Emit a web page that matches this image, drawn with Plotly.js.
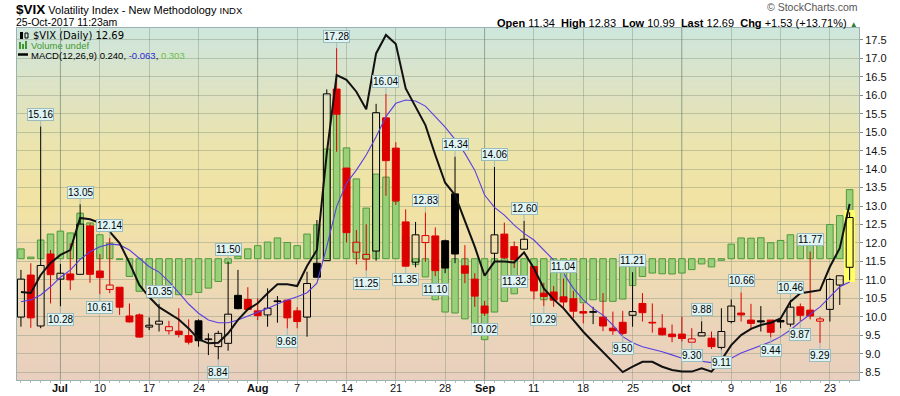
<!DOCTYPE html>
<html><head><meta charset="utf-8">
<script src="https://cdn.plot.ly/plotly-3.0.1.min.js"></script>
<style>html,body{margin:0;padding:0;background:#fff}#chart{width:900px;height:396px}</style>
</head><body><div id="chart"></div>
<script>
// ---------- DATA ----------
const dates = ['2017-06-27','2017-06-28','2017-06-29','2017-06-30','2017-07-03','2017-07-05','2017-07-06','2017-07-07','2017-07-10','2017-07-11','2017-07-12','2017-07-13','2017-07-14','2017-07-17','2017-07-18','2017-07-19','2017-07-20','2017-07-21','2017-07-24','2017-07-25','2017-07-26','2017-07-27','2017-07-28','2017-07-31','2017-08-01','2017-08-02','2017-08-03','2017-08-04','2017-08-07','2017-08-08','2017-08-09','2017-08-10','2017-08-11','2017-08-14','2017-08-15','2017-08-16','2017-08-17','2017-08-18','2017-08-21','2017-08-22','2017-08-23','2017-08-24','2017-08-25','2017-08-28','2017-08-29','2017-08-30','2017-08-31','2017-09-01','2017-09-05','2017-09-06','2017-09-07','2017-09-08','2017-09-11','2017-09-12','2017-09-13','2017-09-14','2017-09-15','2017-09-18','2017-09-19','2017-09-20','2017-09-21','2017-09-22','2017-09-25','2017-09-26','2017-09-27','2017-09-28','2017-09-29','2017-10-02','2017-10-03','2017-10-04','2017-10-05','2017-10-06','2017-10-09','2017-10-10','2017-10-11','2017-10-12','2017-10-13','2017-10-16','2017-10-17','2017-10-18','2017-10-19','2017-10-20','2017-10-23','2017-10-24','2017-10-25'];

const openP = [9.99,11.13,9.75,11.70,11.02,11.16,11.15,12.46,11.24,10.74,
10.80,10.02,10.05,9.72,9.80,9.62,9.61,9.49,9.89,9.38,
9.19,9.28,10.58,10.47,10.16,10.05,10.43,10.45,10.16,9.99,
11.45,11.52,16.17,14.03,11.75,11.56,11.78,15.39,14.57,12.57,
11.48,12.01,12.19,12.06,13.33,11.38,11.02,10.29,11.72,12.24,
11.90,11.83,11.36,10.64,10.67,10.54,10.49,10.14,10.12,9.99,
9.69,9.85,10.04,10.36,9.85,9.69,9.53,9.53,9.31,9.48,
9.42,9.17,9.87,10.10,9.91,9.89,9.91,9.90,9.80,10.27,
10.18,9.88,10.20,10.86,11.34];

const highP = [11.27,11.45,15.16,11.81,11.43,11.99,13.05,12.53,11.70,12.14,
10.80,10.36,10.09,9.98,10.35,9.89,10.23,9.93,9.93,9.55,
9.62,11.50,11.27,10.80,10.50,10.77,10.56,10.45,10.26,11.22,
12.62,16.16,17.28,14.03,12.35,12.51,15.77,16.04,14.73,12.91,
12.57,12.83,12.42,12.09,14.34,11.94,11.18,10.43,14.06,12.55,
12.04,12.60,11.36,10.92,10.83,11.04,10.70,10.36,10.27,10.64,
10.14,10.16,11.21,10.64,10.36,10.07,9.79,10.00,9.69,9.88,
9.60,10.23,10.47,10.66,10.35,10.29,9.91,9.96,10.46,10.36,
11.77,10.00,11.05,11.11,12.83];

const lowP = [9.73,9.70,9.69,10.36,10.28,10.72,11.15,10.92,10.61,10.64,
10.05,9.84,9.43,9.64,9.60,9.52,9.44,9.25,9.19,8.96,
8.84,9.08,10.20,10.18,9.91,9.73,9.84,9.68,9.69,9.46,
11.07,11.52,14.47,12.01,11.42,11.25,11.52,13.28,13.03,11.35,
11.34,11.49,11.10,11.18,11.45,10.91,10.27,10.02,11.45,11.57,
11.32,11.83,10.47,10.29,10.27,10.23,9.96,9.82,9.80,9.61,
9.51,9.50,9.73,9.87,9.57,9.49,9.31,9.33,9.30,9.48,
9.13,9.11,9.82,9.87,9.64,9.60,9.44,9.69,9.73,9.87,
9.93,9.29,9.87,10.32,10.99];

const closeP = [11.02,9.97,11.39,11.14,11.18,11.00,12.51,11.15,11.06,10.86,
10.26,9.86,9.45,9.77,9.88,9.73,9.52,9.31,9.35,9.39,
9.55,10.07,10.22,10.20,10.03,10.23,10.41,9.97,9.87,10.90,
11.07,16.04,15.49,12.28,12.02,11.69,15.53,14.23,13.14,11.37,
12.22,12.20,11.25,11.32,11.70,11.18,10.56,10.10,12.22,11.60,
11.55,12.10,10.70,10.55,10.45,10.40,10.15,10.10,10.13,9.75,
9.62,9.55,10.14,10.11,9.83,9.51,9.46,9.41,9.40,9.57,
9.19,9.60,10.29,10.05,9.82,9.86,9.58,9.86,10.26,10.04,
10.02,9.94,11.01,11.11,12.69];

const macdLine = [-0.102,-0.106,-0.036,0.011,0.042,0.061,0.186,0.181,0.167,0.132,
0.088,0.011,-0.075,-0.122,-0.161,-0.185,-0.209,-0.244,-0.286,-0.302,
-0.300,-0.263,-0.211,-0.170,-0.146,-0.107,-0.072,-0.072,-0.079,-0.001,
0.061,0.437,0.742,0.723,0.677,0.609,0.826,0.898,0.863,0.690,
0.616,0.547,0.431,0.323,0.275,0.178,0.074,-0.039,0.016,0.016,
0.013,0.052,-0.010,-0.088,-0.131,-0.166,-0.211,-0.257,-0.297,-0.336,
-0.375,-0.414,-0.393,-0.374,-0.374,-0.393,-0.406,-0.412,-0.412,-0.399,
-0.412,-0.367,-0.309,-0.270,-0.246,-0.231,-0.222,-0.205,-0.140,-0.107,
-0.101,-0.095,-0.004,0.068,0.240];

const signalLine = [-0.140,-0.133,-0.114,-0.082,-0.045,-0.017,0.025,0.054,0.074,0.084,
0.081,0.061,0.029,-0.004,-0.025,-0.062,-0.105,-0.149,-0.185,-0.211,
-0.222,-0.222,-0.211,-0.196,-0.183,-0.166,-0.149,-0.133,-0.121,-0.105,
-0.068,0.074,0.230,0.321,0.372,0.431,0.502,0.580,0.632,0.645,
0.641,0.621,0.580,0.539,0.492,0.437,0.372,0.275,0.227,0.197,
0.158,0.126,0.100,0.061,0.022,-0.030,-0.088,-0.133,-0.166,-0.192,
-0.231,-0.276,-0.300,-0.315,-0.324,-0.335,-0.347,-0.360,-0.367,-0.371,
-0.377,-0.375,-0.360,-0.340,-0.325,-0.312,-0.296,-0.276,-0.250,-0.218,
-0.188,-0.160,-0.121,-0.082,-0.063];

const macdHist = [0.043,0.007,0.082,0.108,0.121,0.113,0.200,0.157,0.105,0.069,
-0.004,-0.078,-0.143,-0.132,-0.123,-0.136,-0.158,-0.158,-0.148,-0.129,
-0.100,-0.020,0.011,0.043,0.057,0.073,0.091,0.071,0.057,0.108,
0.149,0.481,0.636,0.486,0.350,0.222,0.371,0.358,0.251,0.096,
-0.026,-0.080,-0.180,-0.234,-0.238,-0.264,-0.285,-0.355,-0.234,-0.187,
-0.154,-0.092,-0.118,-0.180,-0.180,-0.180,-0.209,-0.193,-0.180,-0.187,
-0.187,-0.177,-0.118,-0.078,-0.063,-0.066,-0.067,-0.063,-0.048,-0.023,
-0.036,-0.007,0.064,0.091,0.090,0.092,0.070,0.080,0.105,0.105,
0.100,0.088,0.150,0.189,0.303];

const tickDates = ['2017-07-03','2017-07-10','2017-07-17','2017-07-24','2017-08-01','2017-08-07','2017-08-14','2017-08-21','2017-08-28','2017-09-01','2017-09-11','2017-09-18','2017-09-25','2017-10-02','2017-10-09','2017-10-16','2017-10-23'];
const tickLabels = ['<b>Jul</b>','10','17','24','<b>Aug</b>','7','14','21','28','<b>Sep</b>','11','18','25','<b>Oct</b>','9','16','23'];
const monthStartDates = ['2017-07-03','2017-08-01','2017-09-01','2017-10-02'];

const highLabelDates = ['2017-06-29','2017-07-06','2017-07-11','2017-07-18','2017-07-27','2017-08-11','2017-08-18','2017-08-24','2017-08-29','2017-09-05','2017-09-08','2017-09-14','2017-09-25','2017-10-04','2017-10-10','2017-10-17','2017-10-19'];
const lowLabelDates = ['2017-07-03','2017-07-10','2017-07-26','2017-08-04','2017-08-16','2017-08-22','2017-08-25','2017-09-01','2017-09-07','2017-09-12','2017-09-22','2017-10-03','2017-10-06','2017-10-13','2017-10-18','2017-10-20'];

// ---------- BUILD ----------
const N = dates.length;
const xi = dates.map((d,i)=>i);
const RED = '#dd0000', BLK = '#000000', YEL = '#ffff66';
const last = N-1;

const bodyBase=[], bodyH=[], bodyFill=[], bodyLine=[];
const wickBx=[], wickBy=[], wickRx=[], wickRy=[];
for (let i=0;i<N;i++){
  const o=openP[i], c=closeP[i];
  const up = i===0 ? true : c >= closeP[i-1];
  const col = up ? BLK : RED;
  const hollow = c > o;
  const lo = Math.min(o,c), hi = Math.max(o,c);
  bodyBase.push(lo);
  bodyH.push(Math.max(hi-lo, 0.02));
  bodyFill.push(hollow ? (i===last ? YEL : 'rgba(0,0,0,0)') : col);
  bodyLine.push(col);
  const wx = up ? wickBx : wickRx, wy = up ? wickBy : wickRy;
  wx.push(i,i,null,i,i,null);
  wy.push(lowP[i],lo,null,hi,highP[i],null);
}

const traces = [
  { type:'bar', x:xi, y:macdHist, yaxis:'y', width:0.66,
    marker:{color:'#99cf78', line:{color:'#4f9a3b', width:1}}, hoverinfo:'skip' },
  { type:'bar', x:[last], base:[lowP[last]-0.06], y:[highP[last]-lowP[last]+0.12], yaxis:'y2', width:1.05,
    marker:{color:YEL, line:{width:0}}, hoverinfo:'skip' },
  { type:'bar', x:xi, base:bodyBase, y:bodyH, yaxis:'y2', width:0.7,
    marker:{color:bodyFill, line:{color:bodyLine, width:1}}, hoverinfo:'skip' },
  { type:'scatter', mode:'lines', x:wickBx, y:wickBy, yaxis:'y2', line:{color:BLK, width:1}, hoverinfo:'skip' },
  { type:'scatter', mode:'lines', x:wickRx, y:wickRy, yaxis:'y2', line:{color:RED, width:1}, hoverinfo:'skip' },
  { type:'scatter', mode:'lines', x:xi, y:signalLine, yaxis:'y3', line:{color:'#5a3fe0', width:1.1}, hoverinfo:'skip' },
  { type:'scatter', mode:'lines', x:xi, y:macdLine, yaxis:'y3', line:{color:'#111', width:2}, hoverinfo:'skip' }
];

// plot area in pixels
const L=17, R=859, T=28, B=380;
const px2x = p => (p-L)/(R-L);
const py2y = p => (B-p)/(B-T);

// background gradient strips
const stops = [[28,[205,230,221]],[90,[221,227,196]],[150,[236,228,172]],[205,[241,227,163]],[260,[239,221,176]],[320,[235,213,185]],[380,[233,207,190]]];
function colAt(p){
  for (let k=0;k<stops.length-1;k++){
    const [p0,c0]=stops[k],[p1,c1]=stops[k+1];
    if (p>=p0 && p<=p1){ const t=(p-p0)/(p1-p0); return 'rgb('+c0.map((v,j)=>Math.round(v+(c1[j]-v)*t)).join(',')+')'; }
  }
  return 'rgb('+stops[stops.length-1][1].join(',')+')';
}
const shapes=[];
const NS=88;
for (let s=0;s<NS;s++){
  const p0=T+(B-T)*s/NS, p1=T+(B-T)*(s+1)/NS;
  shapes.push({type:'rect', xref:'paper', yref:'paper', x0:0, x1:1, y0:py2y(p1), y1:py2y(p0)+0.002,
    fillcolor:colAt((p0+p1)/2), line:{width:0}, layer:'below'});
}
monthStartDates.forEach(d=>{
  const i=dates.indexOf(d);
  shapes.push({type:'line', xref:'x', yref:'paper', x0:i, x1:i, y0:0, y1:1, line:{color:'rgba(120,145,125,0.55)', width:1}, layer:'between'});
});
// legend icons
shapes.push({type:'rect', xref:'paper', yref:'paper', x0:px2x(20), x1:px2x(23), y0:py2y(39), y1:py2y(32), fillcolor:'#000', line:{width:0}});
shapes.push({type:'rect', xref:'paper', yref:'paper', x0:px2x(25), x1:px2x(28), y0:py2y(38), y1:py2y(33), fillcolor:'rgba(0,0,0,0)', line:{color:'#000',width:1}});
[[19,42],[22,44],[25,41]].forEach(([a,b])=>shapes.push({type:'rect', xref:'paper', yref:'paper', x0:px2x(a), x1:px2x(a+2), y0:py2y(49), y1:py2y(b), fillcolor:'#3f9a2e', line:{width:0}}));
shapes.push({type:'line', xref:'paper', yref:'paper', x0:px2x(18), x1:px2x(28), y0:py2y(54.5), y1:py2y(54.5), line:{color:'#000', width:2.5}});

const ann=[];
const F='Liberation Sans, Arial, sans-serif';
function callout(d, isHigh){
  const i=dates.indexOf(d);
  const v = isHigh ? highP[i] : lowP[i];
  ann.push({x:i, y:v, xref:'x', yref:'y2', text:v.toFixed(2), showarrow:true, arrowhead:0, arrowwidth:1,
    arrowcolor:'#9cbcbc', ax:0, ay: isHigh ? -12 : 13, standoff:0,
    bgcolor:'#dff4f4', bordercolor:'#9cbcbc', borderwidth:1, borderpad:0,
    font:{family:F, size:10, color:'#000'}});
}
highLabelDates.forEach(d=>callout(d,true));
lowLabelDates.forEach(d=>callout(d,false));

// x tick labels placed just under the plot
const tickIdx = tickDates.map(d=>dates.indexOf(d));
tickIdx.forEach((i,k)=>{
  ann.push({x:i, xref:'x', yref:'paper', y:py2y(387.5), yanchor:'middle', xanchor:'center', showarrow:false,
    text:tickLabels[k], font:{family:F, size:11, color:'#111'}});
});

// header texts
ann.push({xref:'paper', yref:'paper', x:px2x(14), y:py2y(9.5), xanchor:'left', yanchor:'middle', showarrow:false,
  text:'<b><span style="font-size:13.5px">$VIX</span></b> Volatility Index - New Methodology <span style="font-size:9.5px">INDX</span>',
  font:{family:F, size:11, color:'#000'}});
ann.push({xref:'paper', yref:'paper', x:px2x(14), y:py2y(22), xanchor:'left', yanchor:'middle', showarrow:false,
  text:'25-Oct-2017 11:23am', font:{family:F, size:10.5, color:'#000'}});
ann.push({xref:'paper', yref:'paper', x:px2x(860), y:py2y(7.5), xanchor:'right', yanchor:'middle', showarrow:false,
  text:'© StockCharts.com', font:{family:F, size:10.5, color:'#555'}});
ann.push({xref:'paper', yref:'paper', x:px2x(860), y:py2y(23), xanchor:'right', yanchor:'middle', showarrow:false,
  text:'<b>Open</b> 11.34  <b>High</b> 12.83  <b>Low</b> 10.99  <b>Last</b> 12.69  <b>Chg</b> +1.53 (+13.71%) <span style="color:#2e7d32;font-size:8px">▲</span>',
  font:{family:F, size:11, color:'#000'}});
// in-chart legend
ann.push({xref:'paper', yref:'paper', x:px2x(31), y:py2y(35.5), xanchor:'left', yanchor:'middle', showarrow:false,
  text:'$VIX (Daily) 12.69', font:{family:'DejaVu Sans, sans-serif', size:10, color:'#000'}});
ann.push({xref:'paper', yref:'paper', x:px2x(29), y:py2y(45.5), xanchor:'left', yanchor:'middle', showarrow:false,
  text:'Volume undef', font:{family:F, size:9.5, color:'#3f9a2e'}});
ann.push({xref:'paper', yref:'paper', x:px2x(29), y:py2y(55.5), xanchor:'left', yanchor:'middle', showarrow:false,
  text:'MACD(12,26,9) 0.240, <span style="color:#2a2ad0">-0.063</span>, <span style="color:#6cc04c">0.303</span>',
  font:{family:F, size:9.5, color:'#000'}});

const GRID='rgba(120,140,115,0.38)', FRAME='#9ab2b2';
const layout = {
  width:900, height:396,
  margin:{l:L, r:900-R, t:T, b:396-B},
  paper_bgcolor:'#ffffff', plot_bgcolor:'rgba(0,0,0,0)',
  showlegend:false, barmode:'overlay', bargap:0,
  xaxis:{range:[-0.4,84.95], tickmode:'array', tickvals:tickIdx, ticktext:tickLabels, showticklabels:false,
    showgrid:true, gridcolor:GRID, gridwidth:1, zeroline:false,
    showline:true, linecolor:FRAME, mirror:true, ticks:'outside', ticklen:3, tickcolor:'#aaa',
    minor:{tickmode:'linear', tick0:0, dtick:1, ticks:'outside', ticklen:2, tickcolor:'#bbb', showgrid:false},
    fixedrange:true},
  yaxis:{range:[-0.532,1.0118], visible:false, fixedrange:true},
  yaxis2:{overlaying:'y', side:'right', range:[8.286,17.825], tickmode:'linear', tick0:8.5, dtick:0.5,
    tickformat:'.1f', showgrid:true, gridcolor:GRID, gridwidth:1, zeroline:false,
    showline:true, linecolor:FRAME, mirror:true, ticks:'outside', ticklen:3, tickcolor:'#888',
    tickfont:{family:F, size:11, color:'#111'}, fixedrange:true},
  yaxis3:{overlaying:'y', range:[-0.4447,0.925], visible:false, fixedrange:true},
  shapes:shapes, annotations:ann
};
Plotly.newPlot('chart', traces, layout, {displayModeBar:false, staticPlot:true});
</script></body></html>
